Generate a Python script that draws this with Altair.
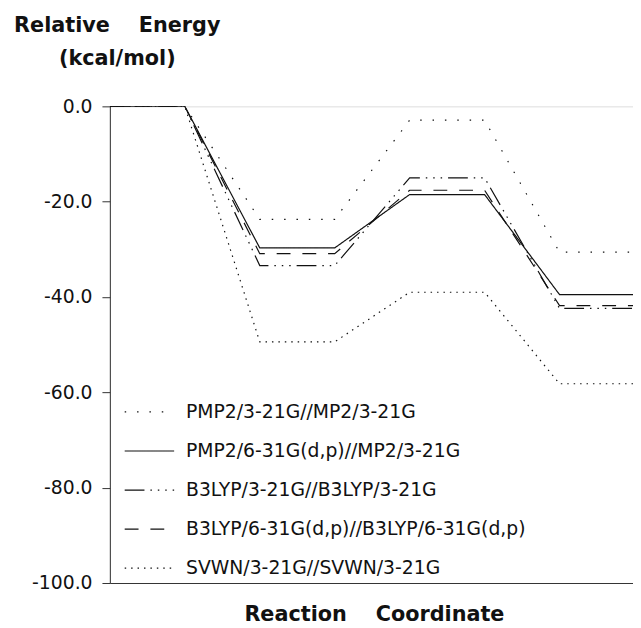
import altair as alt
import pandas as pd

# ---- data ----
series = [
    "PMP2/3-21G//MP2/3-21G",
    "PMP2/6-31G(d,p)//MP2/3-21G",
    "B3LYP/3-21G//B3LYP/3-21G",
    "B3LYP/6-31G(d,p)//B3LYP/6-31G(d,p)",
    "SVWN/3-21G//SVWN/3-21G",
]
coord = [0, 1, 2, 3, 4, 5, 6, 7]
pmp2_321 = [0.0, 0.0, -23.7, -23.7, -2.9, -2.9, -30.6, -30.6]
pmp2_631 = [0.0, 0.0, -29.7, -29.7, -18.5, -18.5, -39.5, -39.5]
b3lyp_321 = [0.0, 0.0, -33.4, -33.4, -15.0, -15.0, -42.4, -42.4]
b3lyp_631 = [0.0, 0.0, -30.9, -30.9, -17.6, -17.6, -41.8, -41.8]
svwn_321 = [0.0, 0.0, -49.4, -49.4, -39.0, -39.0, -58.2, -58.2]
y_ticks = [0, -20, -40, -60, -80, -100]

values = [pmp2_321, pmp2_631, b3lyp_321, b3lyp_631, svwn_321]
rows = []
for name, vals in zip(series, values):
    for c, v in zip(coord, vals):
        rows.append({"method": name, "coord": c, "energy": v})
df = pd.DataFrame(rows)

dashes = [[1.5, 11], [1, 0], [20, 6, 1.5, 6, 1.5, 6, 1.5, 6], [14, 12], [1.5, 5]]

NB = "\u00a0"

chart = (
    alt.Chart(df)
    .mark_line(clip=True, stroke="#111", strokeWidth=1.2)
    .encode(
        x=alt.X(
            "coord:Q",
            scale=alt.Scale(domain=[0, 6.98], nice=False, zero=False),
            axis=alt.Axis(
                title="Reaction" + NB * 3 + " Coordinate",
                labels=False,
                ticks=False,
                grid=False,
                domainColor="#333",
                titleFont="DejaVu Sans",
                titleFontWeight="bold",
                titleFontSize=21,
                titleColor="#111",
                titleX=267,
                titleY=38,
                titleAlign="center",
                titleBaseline="alphabetic",
            ),
        ),
        y=alt.Y(
            "energy:Q",
            scale=alt.Scale(domain=[-100, 0], nice=False, zero=False),
            axis=alt.Axis(
                title=["Relative" + NB * 3 + " Energy", "(kcal/mol)"],
                values=y_ticks,
                labelExpr="datum.value + '.0'",
                grid=False,
                tickSize=8,
                tickColor="#333",
                domainColor="#333",
                labelPadding=10,
                labelFont="DejaVu Sans",
                labelFontSize=19,
                labelColor="#111",
                titleFont="DejaVu Sans",
                titleFontWeight="bold",
                titleFontSize=21,
                titleColor="#111",
                titleAngle=0,
                titleAlign="center",
                titleBaseline="alphabetic",
                titleX=7,
                titleY=-76,
                titleLineHeight=34,
            ),
        ),
        strokeDash=alt.StrokeDash(
            "method:N",
            sort=series,
            scale=alt.Scale(domain=series, range=dashes),
            legend=alt.Legend(
                title=None,
                orient="none",
                legendX=14,
                legendY=283,
                padding=0,
                symbolType="stroke",
                symbolSize=2500,
                symbolStrokeWidth=1.2,
                symbolStrokeColor="#111",
                labelFont="DejaVu Sans",
                labelFontSize=19,
                labelColor="#111",
                labelOffset=11,
                labelLimit=600,
                rowPadding=3.5,
            ),
        ),
        detail="method:N",
    )
    .properties(
        width=529,
        height=482,
        autosize="none",
        padding={"left": 103, "top": 96, "right": 0, "bottom": 40},
    )
    .configure_view(stroke=None)
    .configure(background="white")
)

chart.save("out.html", embed_options={"renderer": "svg", "actions": False})
